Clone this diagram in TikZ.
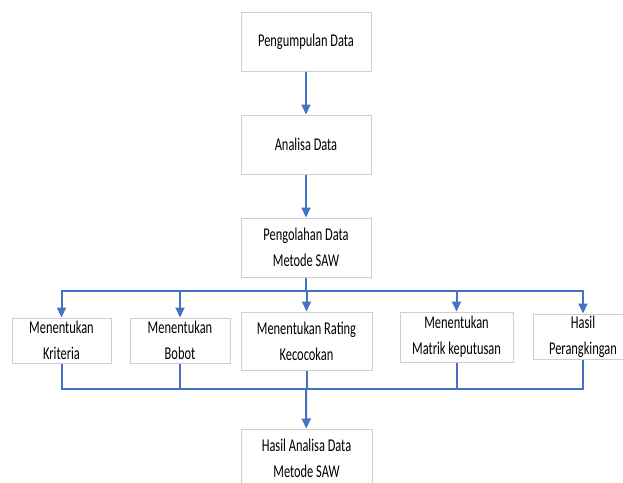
\documentclass[tikz,border=0pt]{standalone}
\usepackage{fontspec}
\setmainfont{Carlito}[FakeStretch=0.69]
\usepackage{xcolor}
\usetikzlibrary{arrows.meta}
\definecolor{garis}{HTML}{4472C4}
\definecolor{tepi}{HTML}{CFCFCF}

\tikzset{
    kotak/.style={draw=tepi, line width=1pt, align=center, inner sep=0pt,
        font=\fontsize{18}{26}\selectfont},
    alur/.style={draw=garis, line width=2pt},
    panah/.style={alur, -{Triangle[length=10pt, width=9pt]}}
}

\begin{document}
\begin{tikzpicture}[x=1pt, y=-1pt]
    \useasboundingbox (0,0) rectangle (623,482);

    % Alur utama
    \node[kotak, minimum width=130, minimum height=59] (kumpul) at (306,41.5) {Pengumpulan Data};
    \node[kotak, minimum width=130, minimum height=59] (analisa) at (306,144.5) {Analisa Data};
    \node[kotak, minimum width=130, minimum height=59] (olah) at (306,247.5) {Pengolahan Data\\Metode SAW};
    \draw[panah] (kumpul) -- (analisa);
    \draw[panah] (analisa) -- (olah);

    % Langkah metode SAW
    \node[kotak, minimum width=99, minimum height=45] (kriteria) at (61.5,340.5) {Menentukan\\Kriteria};
    \node[kotak, minimum width=100, minimum height=45] (bobot) at (180,340.5) {Menentukan\\Bobot};
    \node[kotak, minimum width=131, minimum height=58] (rating) at (306.5,341) {Menentukan Rating\\Kecocokan};
    \node[kotak, minimum width=113, minimum height=50] (matrik) at (456.5,337) {Menentukan\\Matrik keputusan};
    \node[kotak, minimum width=100, minimum height=45] (rangking) at (583,336.5) {Hasil\\Perangkingan};

    % Garis percabangan
    \coordinate (cabang) at (306,290.5);
    \coordinate (gabung) at (306,388.5);
    \draw[alur] (olah.south) -- (cabang);
    \foreach \k in {kriteria,bobot,rating,matrik,rangking}
        \draw[panah] (cabang) -| (\k.north);
    \foreach \k in {kriteria,bobot,rating,matrik,rangking}
        \draw[alur] (\k.south) |- (gabung);

    % Hasil akhir
    \node[kotak, minimum width=131, minimum height=59] (hasil) at (306.5,458.5) {Hasil Analisa Data\\Metode SAW};
    \draw[panah] (gabung) -- (hasil);
\end{tikzpicture}
\end{document}
